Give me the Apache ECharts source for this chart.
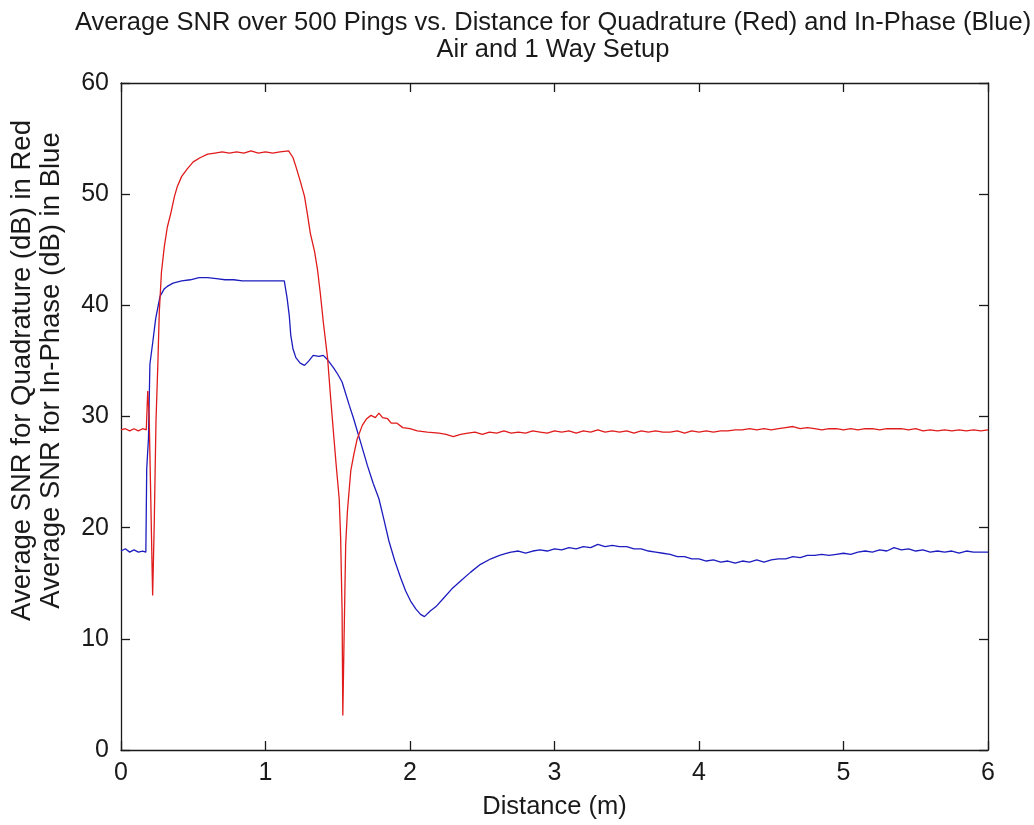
<!DOCTYPE html>
<html>
<head>
<meta charset="utf-8">
<script src="https://cdn.jsdelivr.net/npm/echarts@6/dist/echarts.min.js"></script>
<style>
html,body{margin:0;padding:0;background:#fff;}
#chart{width:1034px;height:825px;}
</style>
</head>
<body>
<div id="chart"></div>
<script>
const xTicks = [0, 1, 2, 3, 4, 5, 6];
const yTicks = [0, 10, 20, 30, 40, 50, 60];

const quadDistance = [0.00,0.03,0.06,0.09,0.12,0.15,0.175,0.185,0.195,0.207,0.215,0.219,0.23,0.242,0.255,0.265,0.28,0.30,0.32,0.345,0.37,0.39,0.42,0.46,0.50,0.55,0.60,0.65,0.70,0.75,0.80,0.85,0.90,0.95,1.00,1.05,1.10,1.16,1.19,1.21,1.24,1.27,1.29,1.31,1.34,1.36,1.38,1.40,1.43,1.45,1.47,1.49,1.51,1.52,1.53,1.535,1.543,1.555,1.567,1.59,1.61,1.635,1.67,1.70,1.73,1.76,1.785,1.81,1.845,1.87,1.91,1.95,2.00,2.05,2.12,2.20,2.25,
  2.30,2.35,2.40,2.45,2.50,2.55,2.60,2.65,2.70,2.75,2.80,2.85,2.90,2.95,3.00,3.05,3.10,3.15,3.20,3.25,3.30,3.35,3.40,3.45,3.50,3.55,3.60,3.65,3.70,3.75,3.80,3.85,3.90,3.95,4.00,4.05,4.10,4.15,4.20,4.25,4.30,4.35,4.40,4.45,4.50,4.55,4.60,4.65,4.70,4.75,4.80,4.85,4.90,4.95,5.00,5.05,5.10,5.15,5.20,5.25,5.30,5.35,5.40,5.45,5.50,5.55,5.60,5.65,5.70,5.75,5.80,5.85,5.90,5.95,6.00];
const quadSNR = [28.8,28.9,28.7,28.9,28.7,28.9,28.8,32.3,30.0,22.0,16.5,13.9,20.3,29.5,34.7,39.4,43.0,45.3,47.0,48.3,49.8,50.7,51.6,52.3,52.9,53.3,53.6,53.7,53.8,53.7,53.8,53.7,53.9,53.7,53.8,53.7,53.8,53.9,53.3,52.5,51.2,49.8,48.2,46.5,44.8,43.2,41.0,38.5,35.2,31.8,28.6,25.5,22.6,19.1,12.5,3.1,9.5,18.5,21.5,25.1,26.5,28.0,29.2,29.8,30.1,29.9,30.3,29.9,29.8,29.4,29.4,29.0,28.9,28.7,28.6,28.5,28.4,
  28.2,28.4,28.5,28.6,28.4,28.6,28.5,28.7,28.5,28.6,28.5,28.7,28.6,28.5,28.7,28.6,28.7,28.5,28.7,28.6,28.8,28.6,28.7,28.6,28.7,28.5,28.7,28.6,28.7,28.6,28.6,28.7,28.5,28.7,28.6,28.7,28.6,28.7,28.7,28.8,28.8,28.9,28.8,28.9,28.8,28.9,29.0,29.1,28.9,29.0,28.9,28.8,28.9,28.9,28.8,28.9,28.8,28.9,28.9,28.8,28.9,28.9,28.9,28.8,28.9,28.7,28.8,28.7,28.8,28.7,28.8,28.7,28.8,28.7,28.8];

const inphDistance = [0.00,0.03,0.06,0.09,0.12,0.15,0.172,0.178,0.19,0.20,0.22,0.24,0.27,0.30,0.32,0.36,0.42,0.48,0.54,0.60,0.66,0.72,0.78,0.84,0.90,1.00,1.08,1.13,1.15,1.165,1.175,1.19,1.21,1.24,1.27,1.30,1.33,1.37,1.40,1.43,1.47,1.50,1.53,1.58,1.61,1.66,1.705,1.745,1.785,1.82,1.854,1.895,1.935,1.97,2.004,2.04,2.073,2.10,2.14,2.18,2.235,2.29,2.35,2.42,2.488,2.56,2.62,2.672,
  2.70,2.75,2.80,2.85,2.90,2.95,3.00,3.05,3.10,3.15,3.20,3.25,3.30,3.35,3.40,3.45,3.50,3.55,3.60,3.65,3.70,3.75,3.80,3.85,3.90,3.95,4.00,4.05,4.10,4.15,4.20,4.25,4.30,4.35,4.40,4.45,4.50,4.55,4.60,4.65,4.70,4.75,4.80,4.85,4.90,4.95,5.00,5.05,5.10,5.15,5.20,5.25,5.30,5.35,5.40,5.45,5.50,5.55,5.60,5.65,5.70,5.75,5.80,5.85,5.90,5.95,6.00];
const inphSNR = [17.9,18.1,17.8,18.0,17.8,17.9,17.8,25.3,28.0,34.7,36.7,38.8,40.8,41.5,41.7,42.0,42.2,42.3,42.5,42.5,42.4,42.3,42.3,42.2,42.2,42.2,42.2,42.2,40.6,39.0,37.3,36.1,35.3,34.8,34.6,35.0,35.5,35.4,35.5,35.1,34.4,33.8,33.1,31.0,29.8,27.6,25.6,24.0,22.6,20.7,18.8,17.0,15.5,14.3,13.4,12.7,12.2,12.0,12.5,12.9,13.7,14.5,15.2,16.0,16.7,17.2,17.5,17.7,
  17.8,17.9,17.7,17.9,18.0,17.9,18.1,18.0,18.2,18.1,18.3,18.2,18.5,18.3,18.4,18.3,18.3,18.1,18.1,17.9,17.8,17.7,17.6,17.4,17.4,17.2,17.2,17.0,17.1,16.9,17.0,16.8,17.0,16.9,17.1,16.9,17.1,17.2,17.2,17.4,17.3,17.5,17.5,17.6,17.5,17.6,17.7,17.6,17.8,17.9,17.8,18.0,17.9,18.2,18.0,18.1,17.9,18.0,17.8,17.9,17.8,17.9,17.7,17.9,17.8,17.8,17.8];

const titleText = 'Average SNR over 500 Pings vs. Distance for Quadrature (Red) and In-Phase (Blue)\nAir and 1 Way Setup';
const xName = 'Distance (m)';
const yName = 'Average SNR for Quadrature (dB) in Red\nAverage SNR for In-Phase (dB) in Blue';

const FONT = "'Liberation Sans', Arial, sans-serif";
const INK = '#1a1a1a';

function pairs(xs, ys) { return xs.map((x, i) => [x, ys[i]]); }

const chart = echarts.init(document.getElementById('chart'), null, {renderer: 'canvas'});

const axisCommon = {
  axisLine: {show: true, onZero: false, lineStyle: {color: INK, width: 1.3}},
  axisTick: {show: true, inside: true, length: 9, lineStyle: {color: INK, width: 1.3}},
  splitLine: {show: false}
};

chart.setOption({
  backgroundColor: '#ffffff',
  animation: false,
  title: {
    text: titleText,
    left: 548,
    top: 4,
    textAlign: 'center',
    textStyle: {fontFamily: FONT, fontSize: 25.5, fontWeight: 'normal', color: INK, lineHeight: 27}
  },
  grid: {left: 120, right: 46, top: 83, bottom: 72, containLabel: false},
  xAxis: [
    Object.assign({
      type: 'value', min: xTicks[0], max: xTicks[xTicks.length - 1], interval: 1,
      position: 'bottom',
      name: xName, nameLocation: 'middle', nameGap: 44,
      nameTextStyle: {fontFamily: FONT, fontSize: 25.5, color: INK},
      axisLabel: {fontFamily: FONT, fontSize: 25, color: INK, margin: 11}
    }, axisCommon),
    Object.assign({
      type: 'value', min: xTicks[0], max: xTicks[xTicks.length - 1], interval: 1,
      position: 'top', axisLabel: {show: false}
    }, axisCommon)
  ],
  yAxis: [
    Object.assign({
      type: 'value', min: yTicks[0], max: yTicks[yTicks.length - 1], interval: 10,
      position: 'left',
      name: yName, nameLocation: 'middle', nameGap: 55,
      nameTextStyle: {fontFamily: FONT, fontSize: 27.5, color: INK, lineHeight: 29, padding: [0, 0, 0, 92]},
      axisLabel: {fontFamily: FONT, fontSize: 25, color: INK, margin: 12}
    }, axisCommon),
    Object.assign({
      type: 'value', min: yTicks[0], max: yTicks[yTicks.length - 1], interval: 10,
      position: 'right', axisLabel: {show: false}
    }, axisCommon)
  ],
  series: [
    {
      name: 'Quadrature', type: 'line', xAxisIndex: 0, yAxisIndex: 0,
      data: pairs(quadDistance, quadSNR), showSymbol: false, symbol: 'none',
      lineStyle: {color: '#e01b1b', width: 1.3}, z: 3
    },
    {
      name: 'In-Phase', type: 'line', xAxisIndex: 0, yAxisIndex: 0,
      data: pairs(inphDistance, inphSNR), showSymbol: false, symbol: 'none',
      lineStyle: {color: '#1c1cbf', width: 1.3}, z: 2
    }
  ]
});
</script>
</body>
</html>
